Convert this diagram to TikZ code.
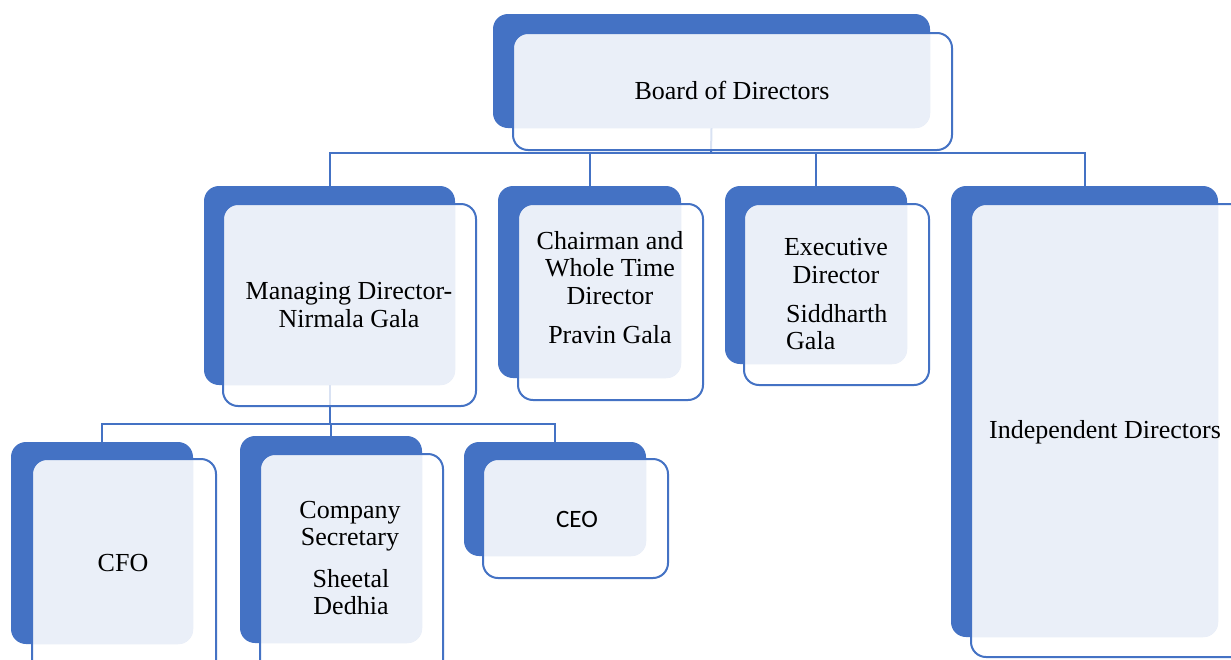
\documentclass[tikz,border=0pt]{standalone}
\usepackage{fontspec}
\setmainfont{Liberation Serif}
\newfontfamily\calibrifont{Carlito}
\usetikzlibrary{fit}
\definecolor{sablue}{HTML}{4472C4}
\definecolor{salight}{HTML}{EAEFF8}
\tikzset{
  backbox/.style={fill=sablue, rounded corners=15pt, inner sep=0pt, draw=none},
  frontedge/.style={draw=sablue, line width=2pt, rounded corners=15pt, inner sep=0pt},
  conn/.style={draw=sablue, line width=2pt},
  lbl/.style={font=\fontsize{26}{27.5}\selectfont, align=center, inner sep=0pt, text=black},
}
\newcommand\backunit[5]{%
  \node[fit={(#2,#3) (#4,#5)}, backbox] (#1b) {};}
\newcommand\frontunit[5]{%
  \fill[white, opacity=0.8, rounded corners=15pt] (#2,#3) rectangle (#4,#5);
  \begin{scope}
    \clip[rounded corners=15pt] (#1b.north west) rectangle (#1b.south east);
    \fill[salight, rounded corners=15pt] (#2,#3) rectangle (#4,#5);
  \end{scope}
  \node[fit={(#2,#3) (#4,#5)}, frontedge] (#1) {};}
\begin{document}
\begin{tikzpicture}[x=1pt, y=-1pt]
\useasboundingbox (0,0) rectangle (1231,659);
\clip (0,0) rectangle (1231,659);
\fill[white] (0,0) rectangle (1231,659);
% back boxes
\backunit{board}{493}{14}{930}{128}
\backunit{md}{204}{186}{455}{385}
\backunit{ch}{498}{186}{681}{378}
\backunit{ex}{725}{186}{907}{364}
\backunit{ind}{951}{186}{1218}{637}
\backunit{cfo}{11}{442}{193}{644}
\backunit{cs}{240}{436}{422}{643}
\backunit{ceo}{464}{442}{646}{556}
% connectors
\coordinate (bar) at (711,153);
\coordinate (subbar) at (330,424);
\draw[conn] (boardb.south) -- (bar);
\draw[conn] (mdb.north) |- (bar) -| (indb.north);
\draw[conn] (chb.north) -- (chb.north |- bar);
\draw[conn] (exb.north) -- (exb.north |- bar);
\draw[conn] (mdb.south) -- (mdb.south |- subbar);
\draw[conn] (cfob.north) |- (subbar) -| (ceob.north);
\draw[conn] (csb.north) -- (csb.north |- subbar);
% front boxes
\frontunit{board}{513}{33}{952}{150}
\frontunit{md}{223}{204}{476}{406}
\frontunit{ch}{518}{204}{703}{400}
\frontunit{ex}{744}{204}{929}{385}
\frontunit{ind}{971}{204}{1250}{657}
\frontunit{cfo}{32}{459}{216}{680}
\frontunit{cs}{260}{454}{443}{680}
\frontunit{ceo}{483}{459}{668}{578}
% labels
\node[lbl] (tboard) at (732,90) {Board of Directors};
\node[lbl] (tmd) at (349,305) {Managing Director-\\Nirmala Gala};
\node[lbl] (tch) at (610,268) {Chairman and\\Whole Time\\Director};
\node[lbl] (tch2) at (610,335) {Pravin Gala};
\node[lbl] (tex) at (836,261) {Executive\\Director};
\node[lbl, align=left, anchor=west] (tex2) at (786,327) {Siddharth\\Gala};
\node[lbl] (tind) at (1105,432) {Independent Directors};
\node[lbl] (tcfo) at (123,563) {CFO};
\node[lbl] (tcs) at (350,526) {Company\\Secretary};
\node[lbl] (tcs2) at (351,592) {Sheetal\\Dedhia};
\node[lbl, font=\calibrifont\fontsize{25}{27}\selectfont] (tceo) at (577,519) {CEO};
\end{tikzpicture}
\end{document}
